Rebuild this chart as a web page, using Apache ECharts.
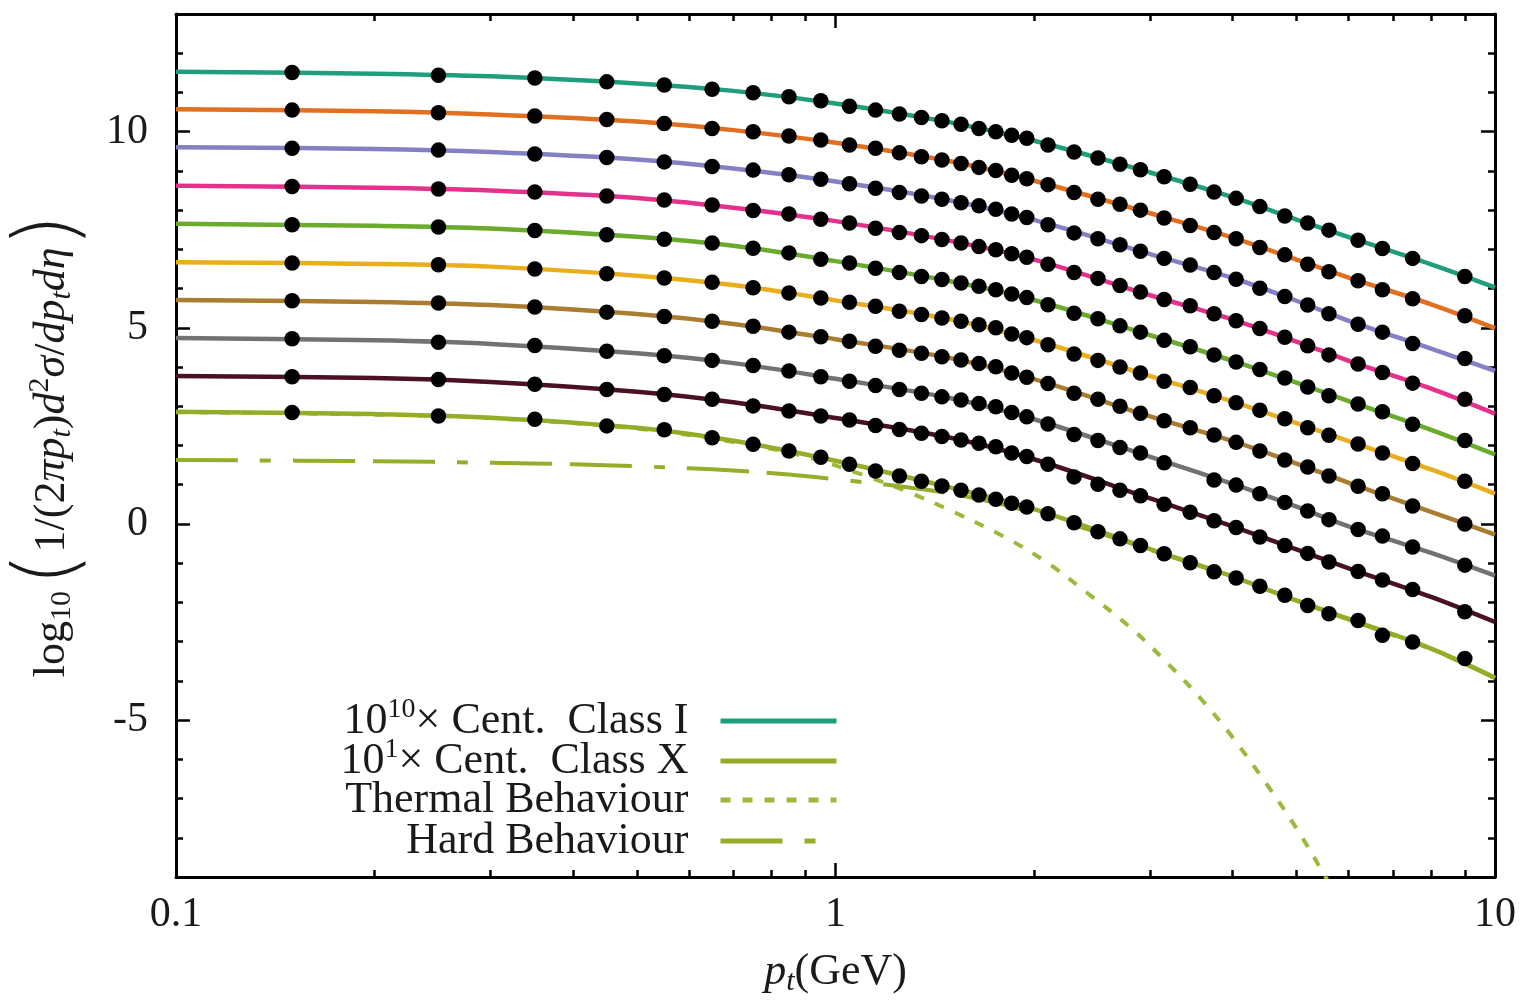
<!DOCTYPE html>
<html>
<head>
<meta charset="utf-8">
<script src="https://cdn.jsdelivr.net/npm/echarts@6/dist/echarts.min.js"></script>
<style>
html,body{margin:0;padding:0;background:#ffffff;}
#chart{width:1521px;height:1003px;}
</style>
</head>
<body>
<div id="chart"></div>
<script>
// ---- data ----
const ptBins = [0.15,0.25,0.35,0.45,0.55,0.65,0.75,0.85,0.95,1.05,1.15,1.25,1.35,1.45,1.55,1.65,1.75,
  1.85,1.95,2.1,2.3,2.5,2.7,2.9,3.15,3.45,3.75,4.05,4.4,4.8,5.2,5.6,6.2,6.75,7.5,9.0];

const classI    = [11.51,11.44,11.37,11.27,11.19,11.08,10.99,10.89,10.79,10.65,10.55,10.45,10.36,10.28,10.19,10.08,10.00,
  9.91,9.83,9.66,9.48,9.33,9.17,9.03,8.85,8.66,8.46,8.30,8.09,7.85,7.67,7.49,7.23,7.02,6.77,6.31];
const classII   = [10.55,10.48,10.40,10.31,10.21,10.08,10.00,9.89,9.79,9.66,9.58,9.46,9.36,9.28,9.19,9.09,9.01,
  8.89,8.80,8.65,8.45,8.28,8.15,8.00,7.80,7.61,7.43,7.27,7.05,6.86,6.62,6.43,6.20,5.97,5.74,5.31];
const classIII  = [9.58,9.53,9.43,9.34,9.23,9.11,9.02,8.90,8.79,8.67,8.56,8.45,8.36,8.28,8.19,8.11,8.02,
  7.90,7.81,7.63,7.42,7.27,7.12,6.95,6.77,6.60,6.41,6.24,6.01,5.80,5.58,5.36,5.09,4.89,4.60,4.22];
const classIV   = [8.60,8.54,8.46,8.36,8.26,8.13,7.99,7.90,7.77,7.67,7.54,7.43,7.35,7.25,7.16,7.07,6.99,
  6.89,6.80,6.62,6.41,6.26,6.08,5.91,5.72,5.56,5.36,5.18,4.98,4.76,4.54,4.31,4.08,3.86,3.59,3.18];
const classV    = [7.63,7.57,7.48,7.37,7.26,7.16,7.03,6.91,6.75,6.65,6.52,6.41,6.31,6.23,6.14,6.06,5.97,
  5.86,5.77,5.59,5.37,5.23,5.05,4.89,4.68,4.52,4.31,4.13,3.94,3.72,3.49,3.27,3.06,2.86,2.54,2.13];
const classVI   = [6.65,6.61,6.50,6.38,6.27,6.16,6.02,5.89,5.76,5.65,5.55,5.42,5.34,5.25,5.17,5.08,5.00,
  4.84,4.75,4.57,4.33,4.17,4.00,3.85,3.64,3.48,3.27,3.09,2.90,2.68,2.45,2.26,2.04,1.81,1.54,1.09];
const classVII  = [5.69,5.63,5.53,5.40,5.29,5.17,5.04,4.89,4.77,4.66,4.53,4.43,4.35,4.26,4.18,4.09,4.01,
  3.85,3.74,3.58,3.33,3.18,3.00,2.82,2.63,2.45,2.27,2.08,1.86,1.63,1.45,1.22,0.96,0.77,0.46,0.00];
const classVIII = [4.72,4.63,4.55,4.40,4.29,4.17,4.04,3.90,3.75,3.64,3.53,3.43,3.33,3.24,3.16,3.07,2.99,
  2.84,2.73,2.55,2.28,2.13,1.95,1.81,1.56,null,1.12,0.99,0.77,0.55,0.33,0.11,-0.14,-0.31,-0.59,-1.05];
const classIX   = [3.75,3.68,3.56,3.43,3.30,3.18,3.01,2.88,2.75,2.65,2.51,2.41,2.31,2.23,2.14,2.06,1.97,
  1.81,1.72,1.52,1.20,1.01,0.86,0.72,0.50,0.30,0.08,-0.09,-0.33,-0.55,-0.75,-0.97,-1.21,-1.43,-1.67,-2.24];
const classX    = [2.84,2.75,2.67,2.50,2.40,2.20,2.03,1.86,1.70,1.52,1.35,1.22,1.09,0.97,0.86,0.74,0.63,
  0.53,0.43,0.26,0.03,-0.20,-0.38,-0.55,-0.76,-0.99,-1.22,-1.38,-1.59,-1.82,-2.08,-2.29,-2.46,-2.84,-3.01,-3.43];

// fitted curves (solid lines)
const fitPt   = [0.1,0.2,0.3,0.5,0.7,1,1.5,2,3,4,5,6,8,10];
const fitI    = [11.53,11.48,11.41,11.23,11.04,10.72,10.23,9.77,8.96,8.33,7.76,7.31,6.62,6.03];
const fitII   = [10.57,10.52,10.44,10.26,10.04,9.72,9.24,8.75,7.92,7.30,6.74,6.28,5.60,4.99];
const fitIII  = [9.60,9.56,9.48,9.29,9.06,8.73,8.24,7.75,6.88,6.27,5.69,5.18,4.47,3.90];
const fitIV   = [8.62,8.57,8.50,8.31,8.06,7.72,7.21,6.74,5.83,5.21,4.65,4.16,3.45,2.81];
const fitV    = [7.65,7.60,7.53,7.32,7.09,6.70,6.18,5.71,4.81,4.16,3.60,3.13,2.40,1.77];
const fitVI   = [6.67,6.63,6.56,6.33,6.09,5.70,5.21,4.69,3.77,3.12,2.57,2.11,1.39,0.77];
const fitVII  = [5.71,5.66,5.58,5.35,5.10,4.71,4.22,3.69,2.74,2.11,1.54,1.05,0.31,-0.27];
const fitVIII = [4.74,4.68,4.59,4.35,4.10,3.70,3.20,2.67,1.71,1.02,0.44,-0.06,-0.74,-1.32];
const fitIX   = [3.77,3.72,3.62,3.37,3.10,2.70,2.19,1.65,0.65,-0.06,-0.65,-1.13,-1.86,-2.50];
const fitX    = [2.86,2.80,2.71,2.45,2.12,1.61,0.92,0.38,-0.64,-1.34,-1.95,-2.42,-3.18,-3.92];

const thermalPt  = [0.1,0.2,0.3,0.5,0.7,0.9,1.1,1.3,1.5,1.8,2.1,2.4,2.8,3.2,3.6,4.0,4.5,5.0,5.5,5.6];
const thermalVal = [2.85,2.79,2.70,2.43,2.09,1.72,1.25,0.79,0.33,-0.32,-1.00,-1.74,-2.64,-3.58,-4.50,-5.44,-6.62,-7.76,-8.92,-9.15];
const hardPt  = [0.1,0.2,0.3,0.4,0.5,0.6,0.7,0.85,1.0,1.25,1.5,1.75,2.1,2.5,3.0,4.0,5.0,6.0,8.0,10];
const hardVal = [1.63,1.60,1.56,1.52,1.47,1.42,1.36,1.26,1.14,0.96,0.77,0.54,0.18,-0.22,-0.66,-1.36,-1.96,-2.44,-3.19,-3.93];

const classKeys   = ['I','II','III','IV','V','VI','VII','VIII','IX','X'];
const classColors = ['#1f9e7b','#e0701f','#8580c4','#e5308d','#6aab2b','#e8ae1c','#a97c2f','#727272','#4a1026','#93ae26'];
const modelColor  = '#9cb93a';

const yMajorTicks = [-5,0,5,10];
const xMinorTicks = [0.2,0.3,0.4,0.5,0.6,0.7,0.8,0.9,2,3,4,5,6,7,8,9];

const legendRows = ['I', 'X', 'Thermal', 'Hard'];
const legendLabels = {
  'I':   '{m|10}{sup|10}{m|× Cent.  Class I}',
  'X':   '{m|10}{sup|1}{m|× Cent.  Class X}',
  'Thermal': '{m|Thermal Behaviour}',
  'Hard':    '{m|Hard Behaviour}'
};

// ---- build ----
const FONT = 'Liberation Serif';
const TXT = '#1a1a1a';
const zip = (xs, ys) => xs.map((x, i) => [x, ys[i]]);
const dotSets = [classI,classII,classIII,classIV,classV,classVI,classVII,classVIII,classIX,classX];
const fitSets = [fitI,fitII,fitIII,fitIV,fitV,fitVI,fitVII,fitVIII,fitIX,fitX];

const series = [];
series.push({
  name: 'Thermal', type: 'line', data: zip(thermalPt, thermalVal), smooth: 0.35,
  symbol: 'none', showSymbol: false, z: 2,
  lineStyle: {color: modelColor, width: 4, type: [10, 12]}, itemStyle: {color: modelColor}
});
series.push({
  name: 'Hard', type: 'line', data: zip(hardPt, hardVal), smooth: 0.35,
  symbol: 'none', showSymbol: false, z: 2,
  lineStyle: {color: '#94ae2a', width: 4, type: [62, 22, 11, 22, 62, 18]}, itemStyle: {color: '#94ae2a'}
});
fitSets.forEach((f, i) => {
  series.push({
    name: classKeys[i], type: 'line', data: zip(fitPt, f), smooth: 0.35,
    symbol: 'none', showSymbol: false, z: 3,
    lineStyle: {color: classColors[i], width: 4.5}, itemStyle: {color: classColors[i]}
  });
});
dotSets.forEach((d, i) => {
  series.push({
    name: 'data ' + classKeys[i], type: 'scatter',
    data: zip(ptBins, d).filter(p => p[1] !== null),
    symbol: 'circle', symbolSize: 15.5, z: 5,
    itemStyle: {color: '#000000', opacity: 1}
  });
});

const tickLine = {color: '#000', width: 2.5};
const frameLine = {show: true, onZero: false, lineStyle: {color: '#000', width: 3}};
const logBase = {type: 'log', logBase: 10, min: 0.1, max: 10, splitLine: {show: false}};
const valBase = {type: 'value', min: -9, max: 13, splitLine: {show: false}};

const legendTops = [691, 731, 773, 814];
const legends = legendRows.map((name, k) => ({
  data: [name], orient: 'vertical', align: 'right', right: 677, top: legendTops[k],
  itemWidth: 116, itemHeight: 14, itemGap: 0, selectedMode: false,
  formatter: n => legendLabels[n],
  itemStyle: {color: 'transparent', borderColor: 'transparent', borderWidth: 0, opacity: 0},
  lineStyle: {width: 5},
  textStyle: {
    fontFamily: FONT, fontSize: 44, color: TXT, padding: [0, 27, 0, 0],
    rich: {
      m: {fontFamily: FONT, fontSize: 44, lineHeight: 44, color: TXT},
      sup: {fontFamily: FONT, fontSize: 28, lineHeight: 28, padding: [0, 0, 22, 0], color: TXT}
    }
  }
}));

const option = {
  animation: false,
  backgroundColor: '#ffffff',
  grid: {left: 176, right: 26, top: 14, bottom: 126, containLabel: false, outerBoundsMode: 'none'},
  xAxis: [
    Object.assign({}, logBase, {
      position: 'bottom', axisLine: frameLine,
      axisTick: {inside: true, length: 14, lineStyle: tickLine},
      axisLabel: {fontFamily: FONT, fontSize: 42, color: TXT, margin: 17},
      name: '{i|p}{s|t}{n|(GeV)}', nameLocation: 'middle', nameGap: 70,
      nameTextStyle: {
        fontFamily: FONT, color: TXT,
        rich: {
          i: {fontFamily: FONT, fontSize: 44, fontStyle: 'italic', lineHeight: 50, color: TXT},
          s: {fontFamily: FONT, fontSize: 30, fontStyle: 'italic', lineHeight: 30, padding: [20, 0, 0, 0], color: TXT},
          n: {fontFamily: FONT, fontSize: 44, lineHeight: 50, color: TXT}
        }
      }
    }),
    Object.assign({}, logBase, {
      position: 'bottom', axisLine: {show: false, onZero: false},
      axisTick: {inside: true, length: 7, lineStyle: tickLine, customValues: xMinorTicks},
      axisLabel: {show: false}
    }),
    Object.assign({}, logBase, {
      position: 'top', axisLine: frameLine,
      axisTick: {inside: true, length: 14, lineStyle: tickLine},
      axisLabel: {show: false}
    }),
    Object.assign({}, logBase, {
      position: 'top', axisLine: {show: false, onZero: false},
      axisTick: {inside: true, length: 7, lineStyle: tickLine, customValues: xMinorTicks},
      axisLabel: {show: false}
    })
  ],
  yAxis: [
    Object.assign({}, valBase, {
      position: 'left', interval: 1, axisLine: frameLine,
      axisTick: {inside: true, length: 7, lineStyle: tickLine},
      axisLabel: {fontFamily: FONT, fontSize: 42, color: TXT, margin: 28,
        formatter: v => (yMajorTicks.indexOf(v) >= 0 ? String(v) : '')},
      name: '{n|log}{s|10}{g| }{p|(}{n|1/(2}{i|πp}{t|t}{n|)}{i|d}{u|2}{i|σ}{n|/}{i|dp}{t|t}{i|dη}{p|)}',
      nameLocation: 'middle', nameGap: 70,
      nameTextStyle: {
        fontFamily: FONT, color: TXT,
        rich: {
          n: {fontFamily: FONT, fontSize: 44, lineHeight: 44, color: TXT},
          i: {fontFamily: FONT, fontSize: 44, fontStyle: 'italic', lineHeight: 44, color: TXT},
          s: {fontFamily: FONT, fontSize: 30, lineHeight: 30, padding: [20, 0, 0, 0], color: TXT},
          t: {fontFamily: FONT, fontSize: 30, fontStyle: 'italic', lineHeight: 30, padding: [20, 0, 0, 0], color: TXT},
          u: {fontFamily: FONT, fontSize: 30, lineHeight: 30, padding: [0, 0, 24, 0], color: TXT},
          g: {fontFamily: FONT, fontSize: 20, lineHeight: 20},
          p: {fontFamily: "'DejaVu Sans', 'Liberation Serif'", fontWeight: 200, fontSize: 86, lineHeight: 86, color: TXT}
        }
      }
    }),
    Object.assign({}, valBase, {
      position: 'left', axisLine: {show: false, onZero: false},
      axisTick: {inside: true, length: 14, lineStyle: tickLine, customValues: yMajorTicks},
      axisLabel: {show: false}
    }),
    Object.assign({}, valBase, {
      position: 'right', interval: 1, axisLine: frameLine,
      axisTick: {inside: true, length: 7, lineStyle: tickLine},
      axisLabel: {show: false}
    }),
    Object.assign({}, valBase, {
      position: 'right', axisLine: {show: false, onZero: false},
      axisTick: {inside: true, length: 14, lineStyle: tickLine, customValues: yMajorTicks},
      axisLabel: {show: false}
    })
  ],
  legend: legends,
  series: series
};

const chart = echarts.init(document.getElementById('chart'), null, {renderer: 'canvas'});
chart.setOption(option);
</script>
</body>
</html>
